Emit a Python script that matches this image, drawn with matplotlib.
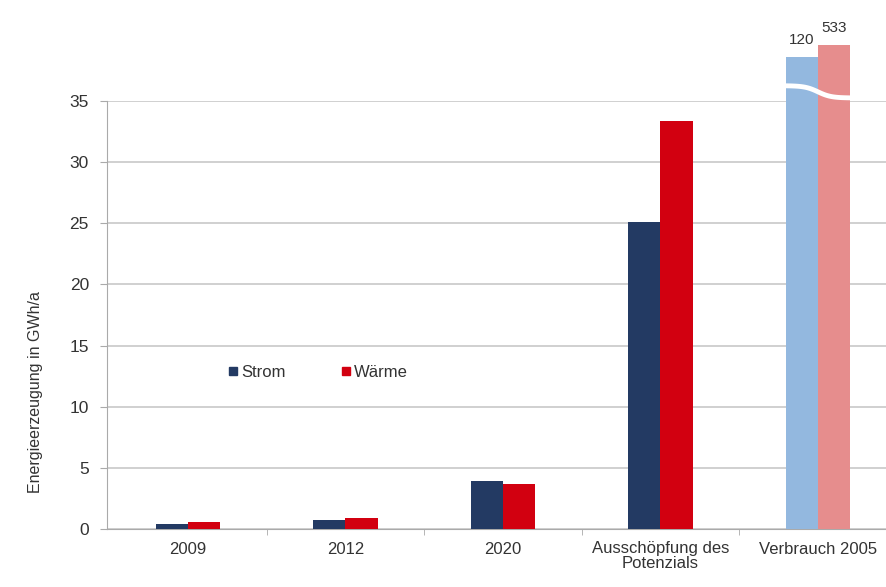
import numpy as np
import matplotlib.pyplot as plt
from matplotlib.lines import Line2D

plt.rcParams['font.family'] = ['Liberation Sans', 'DejaVu Sans']

categories = ['2009', '2012', '2020', 'Ausschöpfung des\nPotenzials', 'Verbrauch 2005']
strom = [0.4, 0.75, 3.9, 25.1, 38.6]
waerme = [0.55, 0.9, 3.7, 33.4, 39.6]
strom_colors = ['#233a63', '#233a63', '#233a63', '#233a63', '#93b8df']
waerme_colors = ['#d20010', '#d20010', '#d20010', '#d20010', '#e68d8d']
top_labels = ['120', '533']

fig = plt.figure(figsize=(8.86, 5.87), dpi=100)
ax = fig.add_axes([107 / 886, 1 - 529 / 587, 779 / 886, 428 / 587])

x = np.arange(len(categories))
w = 0.205
ax.bar(x - w / 2, strom, w, color=strom_colors, clip_on=False, zorder=3)
ax.bar(x + w / 2, waerme, w, color=waerme_colors, clip_on=False, zorder=3)

# break mark across the consumption bars
xs = np.linspace(x[4] - w - 0.01, x[4] + w + 0.01, 60)
ys = 35.75 - 0.5 * np.tanh((xs - x[4]) * 12)
ax.plot(xs, ys, color='white', lw=3.5, clip_on=False, zorder=4)

ax.text(x[4] - w / 2, strom[4] + 0.8, top_labels[0], ha='center', va='bottom', fontsize=11, color='#333333')
ax.text(x[4] + w / 2, waerme[4] + 0.8, top_labels[1], ha='center', va='bottom', fontsize=11, color='#333333')

ax.set_ylim(0, 35)
ax.set_xlim(-0.514, 4.432)
ax.set_yticks(np.arange(0, 36, 5))
ax.set_xticks(x)
ax.set_xticklabels(categories, fontsize=12, color='#333333', linespacing=1.0)
ax.set_xticks(np.arange(0.5, 4, 1), minor=True)
ax.tick_params(axis='x', which='major', length=0, pad=9)
ax.tick_params(axis='x', which='minor', length=4, color='#aaaaaa')
ax.tick_params(axis='y', length=5, color='#aaaaaa', labelsize=12.5, labelcolor='#333333', pad=8)
ax.yaxis.grid(True, color='#c8c8c8', lw=1.2, zorder=0)
ax.set_axisbelow(True)
for s in ['top', 'right']:
    ax.spines[s].set_visible(False)
ax.spines['left'].set_color('#aaaaaa')
ax.spines['bottom'].set_color('#aaaaaa')

ax.set_ylabel('Energieerzeugung in GWh/a', fontsize=11.5, color='#333333')
ax.yaxis.set_label_coords(-0.082, 0.32)

handles = [Line2D([], [], marker='s', ls='', color=strom_colors[0], markersize=6),
           Line2D([], [], marker='s', ls='', color=waerme_colors[0], markersize=6)]
ax.legend(handles, ['Strom', 'Wärme'], ncol=2, frameon=False, fontsize=12,
          loc='center', bbox_to_anchor=(0.27, 0.365), handletextpad=0.1,
          columnspacing=3.2, handlelength=0.8, labelcolor='#333333')

plt.savefig('out.png', dpi=100)
